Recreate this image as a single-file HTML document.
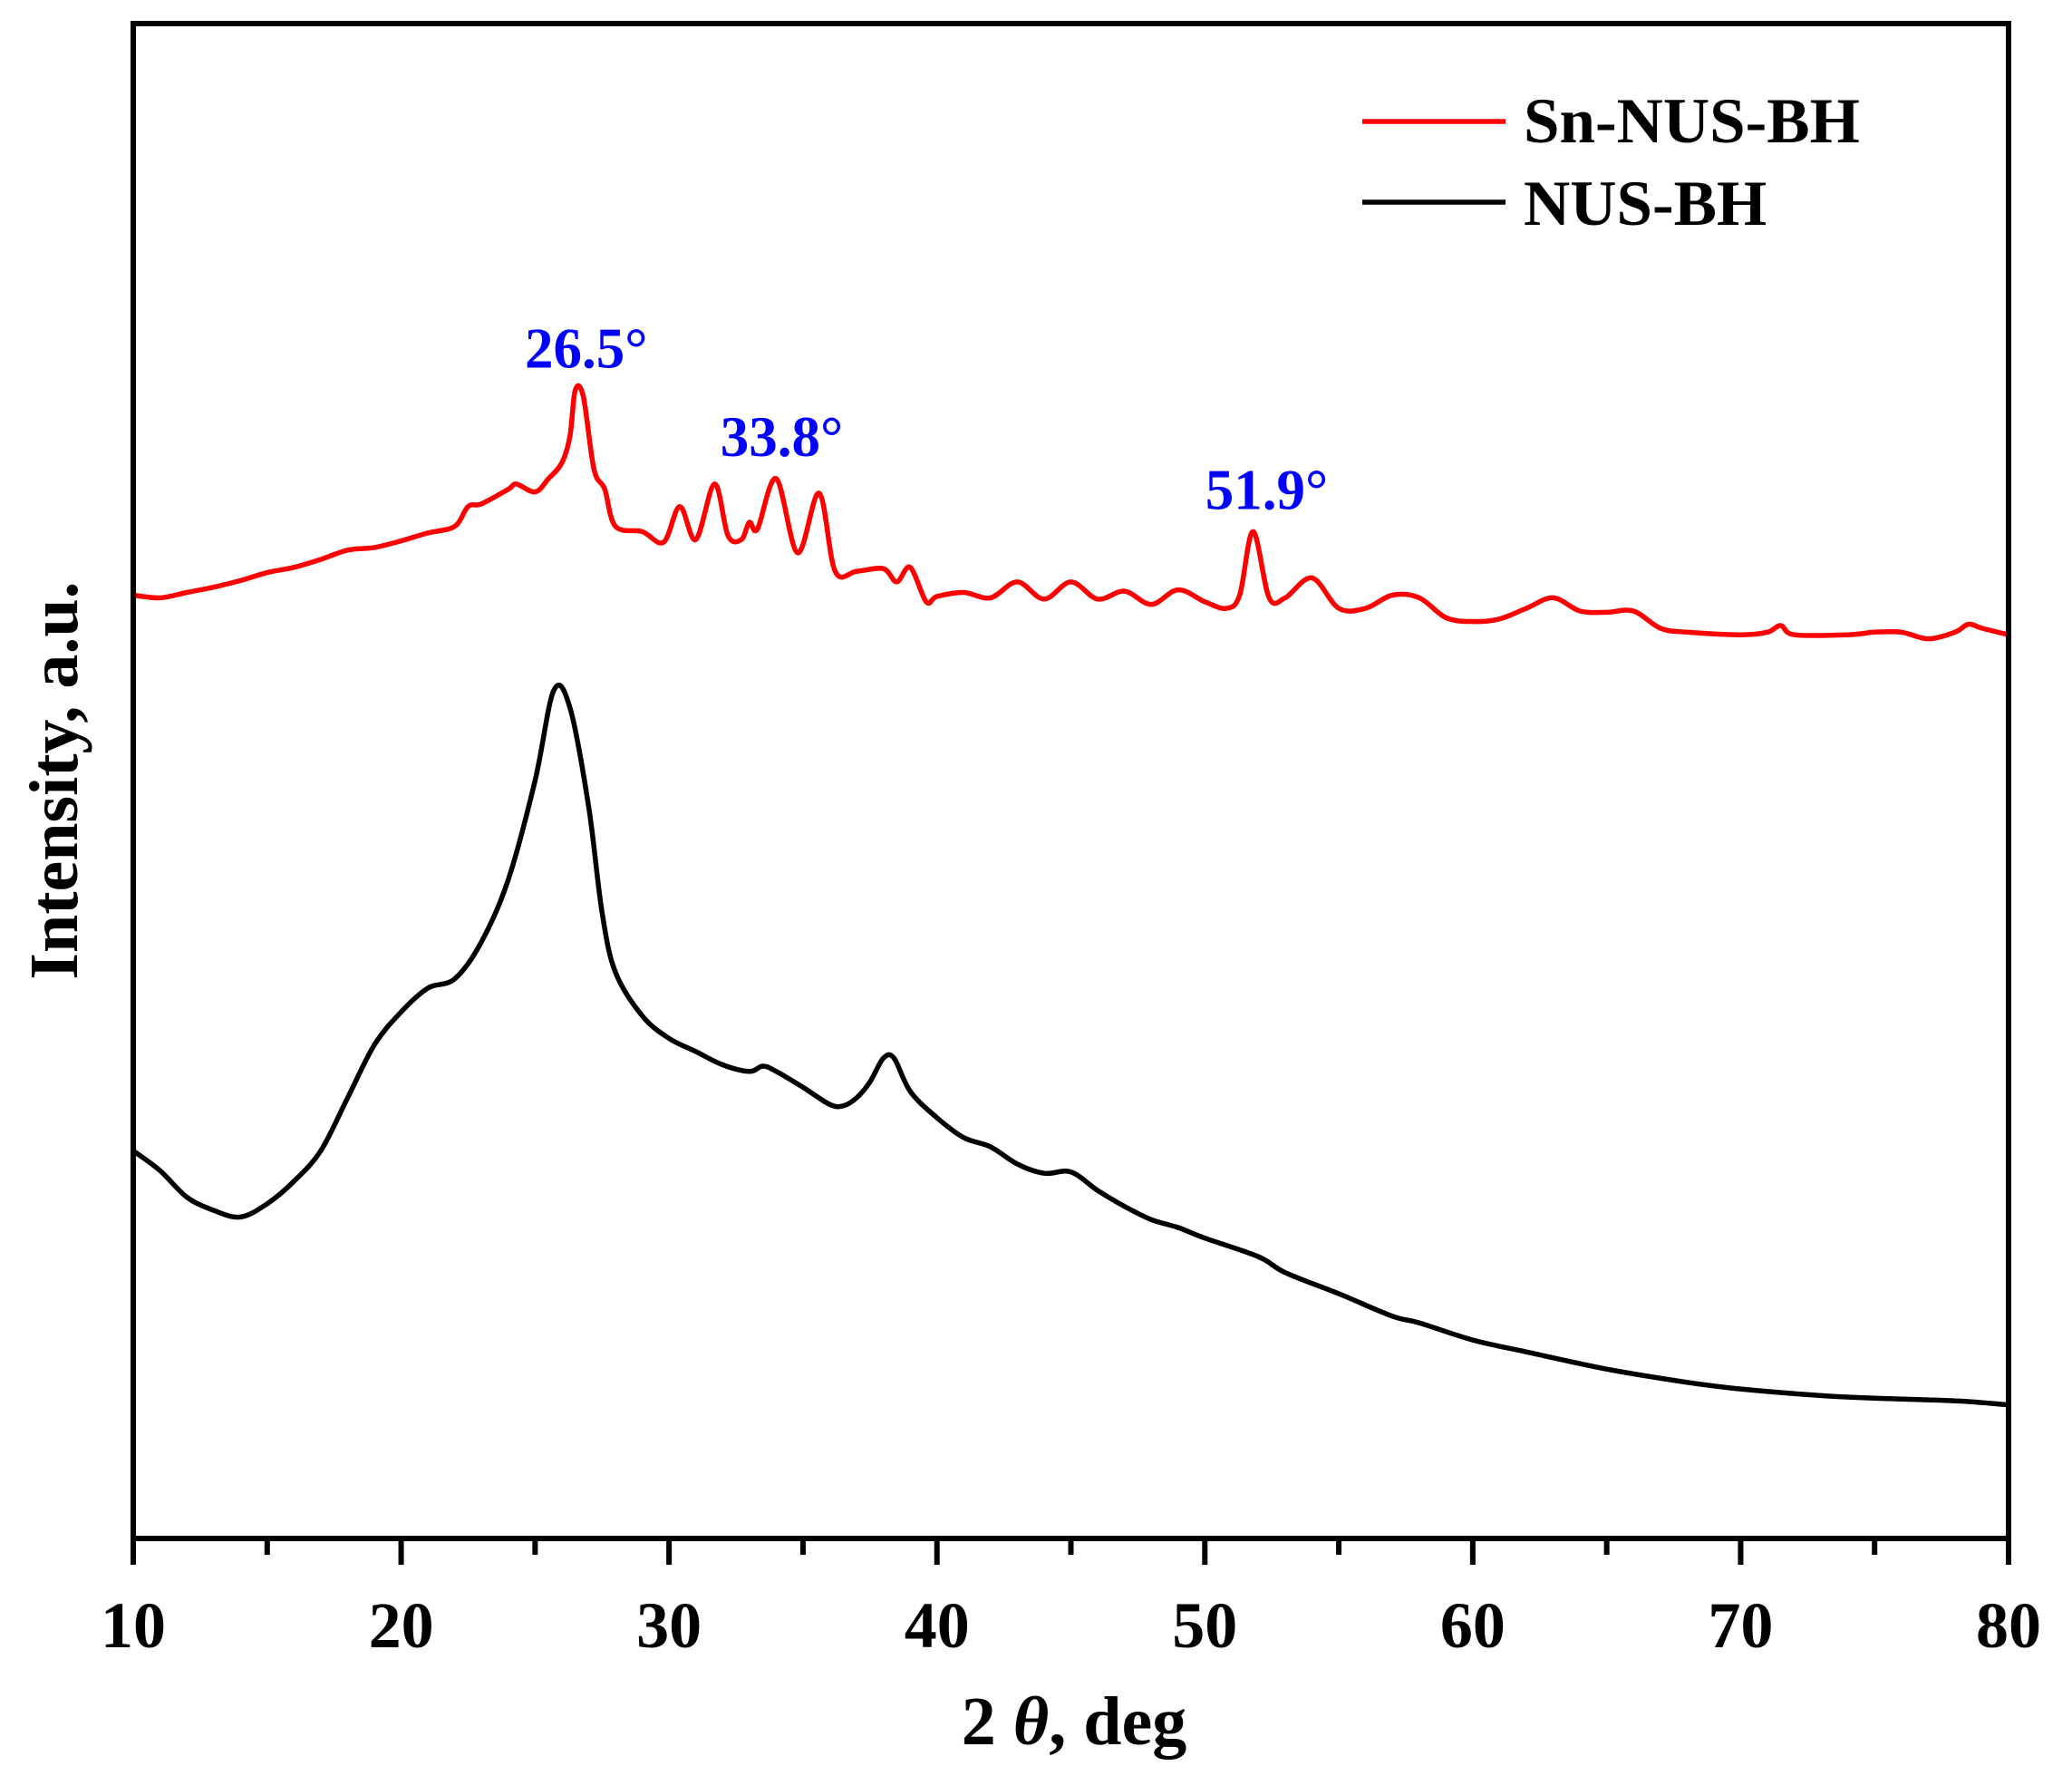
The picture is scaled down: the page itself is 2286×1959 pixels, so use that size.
<!DOCTYPE html>
<html><head><meta charset="utf-8"><style>html,body{margin:0;padding:0;background:#fff}svg{display:block}</style></head>
<body>
<svg id="chart" width="2286" height="1959" viewBox="0 0 2286 1959" xmlns="http://www.w3.org/2000/svg" font-family="'Liberation Serif', serif" font-weight="bold">
<g id="plot"></g>
<g>
<line x1="1503" x2="1661" y1="134" y2="134" stroke="#ff0000" stroke-width="5.5"/>
<text x="1681" y="157" font-size="71">Sn-NUS-BH</text>
<line x1="1503" x2="1661" y1="223" y2="223" stroke="#000" stroke-width="5.5"/>
<text x="1681" y="248" font-size="71">NUS-BH</text>
</g>
<text x="1185" y="1924" text-anchor="middle" font-size="76">2 <tspan font-style="italic">θ</tspan>, deg</text>
<text transform="translate(85,861) rotate(-90)" text-anchor="middle" font-size="76">Intensity, a.u.</text>
</svg>
<script>
const blackX=[10,11,12,13,14,15,16,17,18,19,20,21,22,23,24,25,25.7,26.3,27,27.5,28,29,30,31,32,33,33.5,34,35,36,36.5,37,37.5,38,38.4,39,40,41,42,43,44,45,46,47,48,49,50,52,53,55,57,58,60,62,65,68,70,73,75,78,80];
const blackY=[293,278,258,248,243,253,270,293,333,373,398,416,423,451,498,573,641,628,553,473,428,395,378,368,358,353,357,353,341,328,327,333,345,363,363,338,318,303,296,283,276,277,263,251,241,235,227,213,201,185,168,163,150,141,128,118,113,108,106,104,101];
const redX=[10,11,12,13,14,15,16,17,18,19,20,21,22,22.5,23,24,24.3,25,25.5,26,26.3,26.5,26.8,27.2,27.6,28,29,29.8,30.4,31,31.7,32.2,32.7,33,33.3,34,34.8,35.6,36.2,37,38,38.5,39,39.6,40,41,42,43,44,45,46,47,48,49,50,50.8,51.3,51.8,52.4,53,54,55,56,57,58,59,60,61,62,63,64,65,66,67,68,70,71,71.5,72,74,75,76,77,78,78.5,79,80];
const redY=[713,711,715,719,724,730,734,740,747,749,754,760,765,780,782,793,797,791,801,813,833,868,863,808,793,765,761,753,780,755,797,758,755,768,763,801,745,790,731,731,733,723,734,708,712,715,711,723,710,723,710,716,706,717,708,703,713,761,711,711,726,703,703,713,711,696,693,695,703,711,701,700,701,688,685,683,685,690,683,683,685,685,680,685,691,688,683];
const xTicks=[10,20,30,40,50,60,70,80];
const annotations=[{x:26.5,y:868,t:"26.5°"},{x:33.8,y:801,t:"33.8°"},{x:51.9,y:761,t:"51.9°"}];
const L=147,R=2216,T=26,B=1697,YMAX=1145;
const sx=v=>L+(v-10)/70*(R-L);
const sy=v=>B-v/YMAX*(B-T);
const NS="http://www.w3.org/2000/svg";
const g=document.getElementById('plot');
function mk(tag,attrs){const e=document.createElementNS(NS,tag);for(const k in attrs)e.setAttribute(k,attrs[k]);g.appendChild(e);return e;}
function path(xs,ys,color,name){
  const P=xs.map((x,i)=>[sx(x),sy(ys[i])]);
  let d="M"+P[0][0].toFixed(1)+","+P[0][1].toFixed(1);
  for(let i=0;i<P.length-1;i++){
    const p0=P[Math.max(0,i-1)],p1=P[i],p2=P[i+1],p3=P[Math.min(P.length-1,i+2)];
    const c1=[p1[0]+(p2[0]-p0[0])/6,p1[1]+(p2[1]-p0[1])/6];
    const c2=[p2[0]-(p3[0]-p1[0])/6,p2[1]-(p3[1]-p1[1])/6];
    d+="C"+c1[0].toFixed(1)+","+c1[1].toFixed(1)+" "+c2[0].toFixed(1)+","+c2[1].toFixed(1)+" "+p2[0].toFixed(1)+","+p2[1].toFixed(1);
  }
  const p=mk('path',{d:d,fill:'none',stroke:color,'stroke-width':5.5,'stroke-linejoin':'round'});
  
  
}
path(blackX,blackY,'#000','nus-bh-line');
path(redX,redY,'#ff0000','sn-nus-bh-line');
const frame=mk('rect',{x:L,y:T,width:R-L,height:B-T,fill:'none',stroke:'#000','stroke-width':6});


for(let v=10;v<=80;v+=5){
  const major=v%10===0;
  const t=mk('line',{x1:sx(v),x2:sx(v),y1:B,y2:B+(major?29:18),stroke:'#000','stroke-width':6});
  
  
}
xTicks.forEach(v=>{
  const t=mk('text',{x:sx(v),y:1817,'text-anchor':'middle','font-size':72});
  t.textContent=v;
  
  
});
annotations.forEach(a=>{
  const t=mk('text',{x:sx(a.x)+12,y:sy(a.y)-25,'text-anchor':'middle','font-size':63,fill:'#0000ff'});
  t.textContent=a.t;
  
  
});
</script>
</body></html>
